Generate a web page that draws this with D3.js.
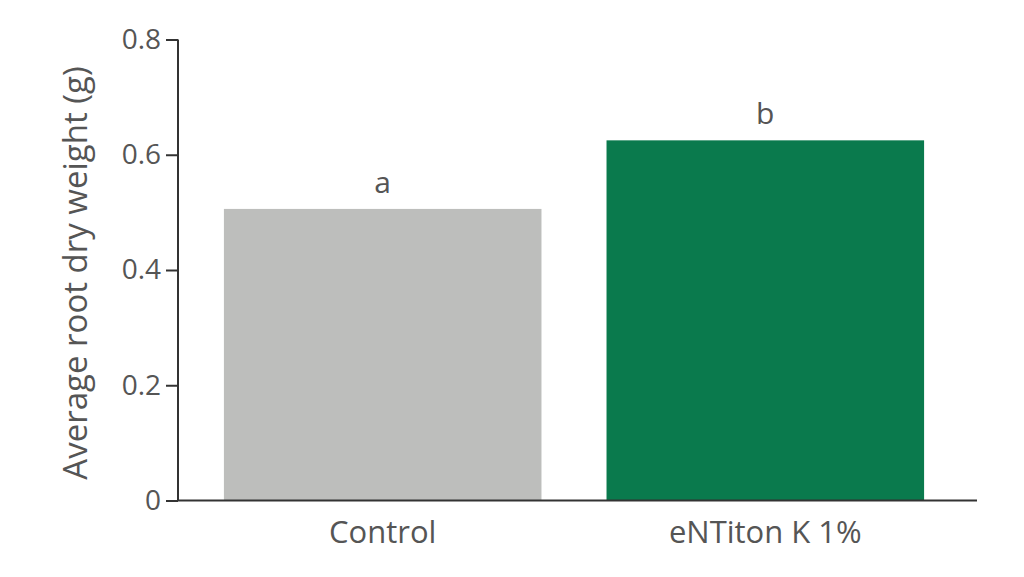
<!DOCTYPE html>
<html>
<head>
    <meta charset="utf-8">
    <title></title>
    <style type="text/css">
        html, body {
            margin: 0;
            background: #fff;
        }
        text {
            font-family: "Open Sans", sans-serif;
            fill: #555;
        }
    </style>
</head>
<body>
<svg id="svg" width="1024" height="577"></svg>

<script src="https://cdn.jsdelivr.net/npm/d3@7/dist/d3.min.js"></script>
<script type="text/javascript">
    var categories = ['Control', 'eNTiton K 1%'];
    var values = [0.506, 0.625];
    var letters = ['a', 'b'];
    var colors = ['#bdbebc', '#0a7a4d'];
    var yTicks = [0, 0.2, 0.4, 0.6, 0.8];

    var svg = d3.select('#svg');

    var x = d3.scaleBand()
        .domain(categories)
        .range([178, 970])
        .paddingInner(0.17)
        .paddingOuter(0.12);

    var y = d3.scaleLinear()
        .domain([0, 0.8])
        .range([500.5, 39.5]);

    // bars
    svg.selectAll('rect.bar')
        .data(categories)
        .enter()
        .append('rect')
        .attr('class', 'bar')
        .attr('x', (d) => x(d))
        .attr('y', (d, i) => y(values[i]))
        .attr('width', x.bandwidth())
        .attr('height', (d, i) => y(0) - y(values[i]))
        .attr('fill', (d, i) => colors[i]);

    // significance letters
    svg.selectAll('text.letter')
        .data(categories)
        .enter()
        .append('text')
        .attr('class', 'letter')
        .attr('x', (d) => x(d) + x.bandwidth() / 2)
        .attr('y', (d, i) => y(values[i]) - 16)
        .attr('text-anchor', 'middle')
        .style('font-size', '30px')
        .text((d, i) => letters[i]);

    // y axis
    var yAxis = d3.axisLeft(y)
        .tickValues(yTicks)
        .tickSize(12)
        .tickPadding(5)
        .tickFormat((d) => d === 0 ? '0' : d3.format('.1f')(d));

    var gy = svg.append('g')
        .attr('transform', 'translate(178,0)')
        .call(yAxis);
    gy.select('.domain').remove();
    gy.append('line')
        .attr('x1', 0).attr('x2', 0)
        .attr('y1', y(0.8)).attr('y2', y(0))
        .attr('stroke', '#333').attr('stroke-width', 2);
    gy.selectAll('.tick line').attr('stroke', '#333').attr('stroke-width', 2);
    gy.selectAll('.tick text')
        .style('font-size', '28px')
        .style('font-family', '"Open Sans", sans-serif')
        .attr('fill', '#555');

    // x axis
    var xAxis = d3.axisBottom(x).tickSize(0).tickPadding(20);
    var gx = svg.append('g')
        .attr('transform', 'translate(0,' + y(0) + ')')
        .call(xAxis);
    gx.select('.domain').remove();
    gx.append('line')
        .attr('x1', 177).attr('x2', 977)
        .attr('stroke', '#333').attr('stroke-width', 2);
    gx.selectAll('.tick text')
        .style('font-size', '31px')
        .style('font-family', '"Open Sans", sans-serif')
        .attr('fill', '#555');

    // y title
    svg.append('text')
        .attr('transform', 'translate(87,' + (y(0.4) + 3) + ') rotate(-90)')
        .attr('text-anchor', 'middle')
        .style('font-size', '33px')
        .text('Average root dry weight (g)');
</script>
</body>
</html>
